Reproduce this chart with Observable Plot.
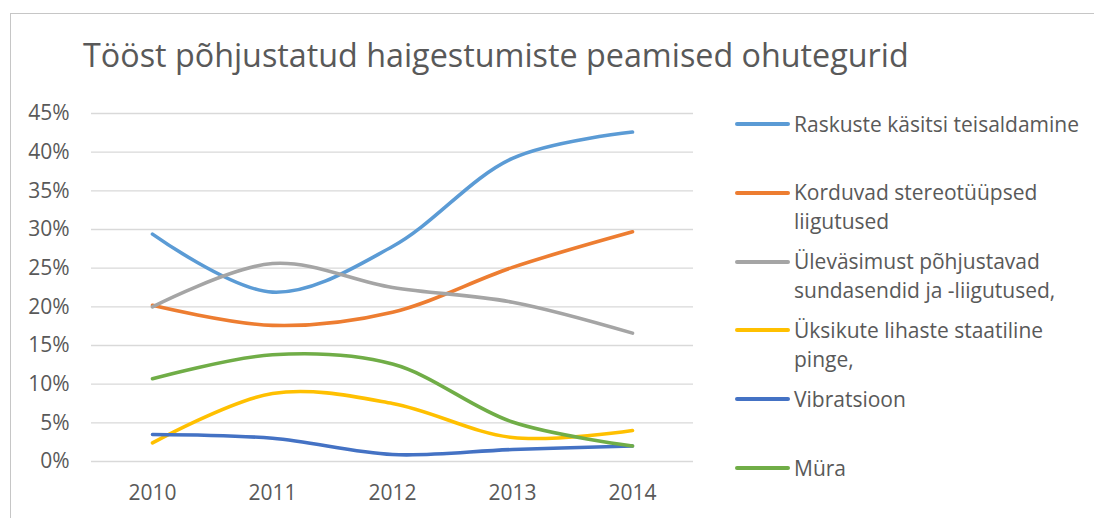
<!DOCTYPE html>
<html>
<head>
<meta charset="utf-8">
<script src="https://cdn.jsdelivr.net/npm/d3@7"></script>
<script src="https://cdn.jsdelivr.net/npm/@observablehq/plot@0.6"></script>
<style>
  html, body { margin: 0; padding: 0; background: #fff; }
  body { width: 1094px; height: 518px; position: relative; overflow: hidden; font-family: "Open Sans", sans-serif; }
  #frame { position: absolute; left: 10px; top: 13px; width: 1200px; height: 600px; border: 1px solid #c6c6c6; box-sizing: border-box; }
  #title { position: absolute; left: 83px; top: 33.5px; font-size: 32.3px; font-weight: 400; color: #595959; line-height: 40px; white-space: nowrap; }
  #chart { position: absolute; left: 0; top: 90px; }
  .leg { position: absolute; left: 735px; display: flex; align-items: flex-start; }
  .leg .sw { width: 55px; height: 4px; border-radius: 2px; margin-top: 12.5px; flex: none; }
  .leg .tx { margin-left: 4px; font-size: 21px; line-height: 29px; color: #595959; white-space: pre; }
</style>
</head>
<body>
<div id="frame"></div>
<div id="title">Tööst põhjustatud haigestumiste peamised ohutegurid</div>
<div id="chart"></div>
<div id="legend"></div>
<script>
const years = ["2010", "2011", "2012", "2013", "2014"];
const seriesNames = [
  "Raskuste käsitsi teisaldamine",
  "Korduvad stereotüüpsed\nliigutused",
  "Ülevasimust põhjustavad\nsundasendid ja -liigutused,".replace("Ülevasimust", "Üleväsimust"),
  "Üksikute lihaste staatiline\npinge,",
  "Vibratsioon",
  "Müra"
];
const seriesColors = ["#5B9BD5", "#ED7D31", "#A5A5A5", "#FFC000", "#4472C4", "#70AD47"];
const raskused   = [0.294, 0.219, 0.278, 0.392, 0.426];
const korduvad   = [0.202, 0.176, 0.193, 0.251, 0.297];
const ulevasimus = [0.200, 0.256, 0.225, 0.206, 0.166];
const uksikute   = [0.024, 0.088, 0.075, 0.031, 0.040];
const vibratsioon= [0.035, 0.030, 0.009, 0.0155, 0.020];
const mura       = [0.107, 0.138, 0.126, 0.051, 0.020];
const yTicks = [0, 0.05, 0.10, 0.15, 0.20, 0.25, 0.30, 0.35, 0.40, 0.45];

const seriesValues = [raskused, korduvad, ulevasimus, uksikute, vibratsioon, mura];
const data = [];
seriesValues.forEach((vals, i) => vals.forEach((v, j) => data.push({series: seriesNames[i], year: years[j], value: v})));

const chart = Plot.plot({
  width: 700,
  height: 428,
  marginLeft: 91,
  marginRight: 7,
  marginTop: 23,
  marginBottom: 57,
  style: {fontFamily: "Open Sans, sans-serif", fontSize: "21px", color: "#595959", background: "transparent"},
  x: {type: "point", domain: years, padding: 0.5, label: null},
  y: {domain: [0, 0.45], label: null},
  color: {domain: seriesNames, range: seriesColors},
  marks: [
    Plot.gridY(yTicks, {stroke: "#d9d9d9", strokeOpacity: 1, strokeWidth: 1.3}),
    Plot.axisY(yTicks, {tickSize: 0, tickPadding: 22, tickFormat: d3.format(".0%"), fill: "#595959", fontSize: 21, label: null}),
    Plot.axisX({tickSize: 0, tickPadding: 24, fill: "#595959", fontSize: 21, label: null}),
    Plot.lineY(data, {x: "year", y: "value", z: "series", stroke: "series", curve: "catmull-rom", strokeWidth: 3.6, strokeLinecap: "round", strokeLinejoin: "round"})
  ]
});
document.getElementById("chart").appendChild(chart);

const legend = document.getElementById("legend");
seriesNames.forEach((name, i) => {
  const row = document.createElement("div");
  row.className = "leg";
  row.style.top = (124 - 14.5 + i * 68.8) + "px";
  const sw = document.createElement("div");
  sw.className = "sw";
  sw.style.background = seriesColors[i];
  const tx = document.createElement("div");
  tx.className = "tx";
  tx.textContent = name;
  row.appendChild(sw);
  row.appendChild(tx);
  legend.appendChild(row);
});
</script>
</body>
</html>
